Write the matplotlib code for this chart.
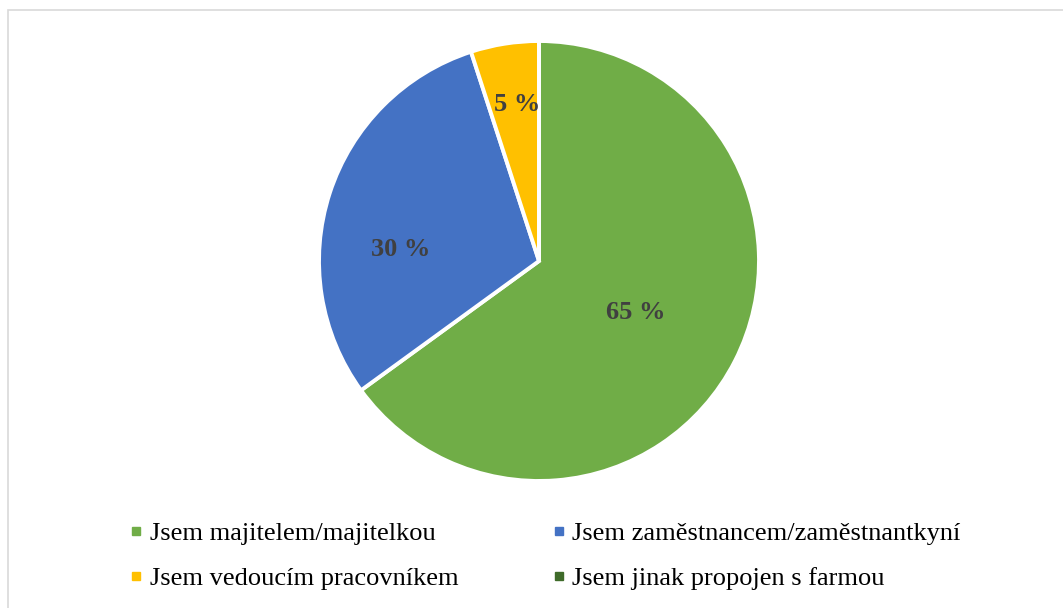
import numpy as np
import matplotlib.pyplot as plt
from matplotlib.lines import Line2D
from matplotlib.patches import Rectangle

labels = ["Jsem majitelem/majitelkou", "Jsem zaměstnancem/zaměstnantkyní",
          "Jsem vedoucím pracovníkem", "Jsem jinak propojen s farmou"]
values = [65, 30, 5, 0]
colors = ["#70AD47", "#4472C4", "#FFC000", "#3F6B2A"]

# label placement tweaks (radius fraction, angle shift in degrees)
lab_r = [0.50, 0.63, 0.72]
lab_shift = [-1, 13.4, -1]

plt.rcParams["font.family"] = ["Liberation Serif", "DejaVu Serif"]

W, H = 1063, 608
fig = plt.figure(figsize=(W / 100, H / 100), dpi=100)

# chart border
fig.patches.append(Rectangle((8 / W, -0.1), 1.2, (H - 10) / H + 0.1,
                             transform=fig.transFigure, fill=False,
                             edgecolor="#D9D9D9", linewidth=1.2))

r = 220
cx, cy = 539, 261
ax = fig.add_axes([(cx - r) / W, (H - cy - r) / H, 2 * r / W, 2 * r / H])
wedges, _ = ax.pie(values, colors=colors, startangle=90, counterclock=False,
                   radius=1.0, wedgeprops=dict(edgecolor="white", linewidth=2.8))
ax.set_xlim(-1, 1)
ax.set_ylim(-1, 1)
ax.set_aspect("equal")
ax.axis("off")

for i, w in enumerate(wedges[:3]):
    mid = np.deg2rad((w.theta1 + w.theta2) / 2 + lab_shift[i])
    ax.text(lab_r[i] * np.cos(mid), lab_r[i] * np.sin(mid), f"{values[i]} %",
            ha="center", va="center", fontsize=19, fontweight="bold", color="#404040")

# legend laid out row by row like the original
order = [0, 2, 1, 3]
handles = [Line2D([], [], marker="s", ls="", color=colors[i], markersize=5.5) for i in order]
fig.legend(handles, [labels[i] for i in order], ncol=2, loc="center left",
           bbox_to_anchor=(118 / W, 1 - 556 / H), frameon=False, fontsize=19,
           handlelength=0.4, handletextpad=0.3, columnspacing=3.6, labelspacing=0.8,
           borderpad=0)

fig.savefig("out.png", dpi=100)
